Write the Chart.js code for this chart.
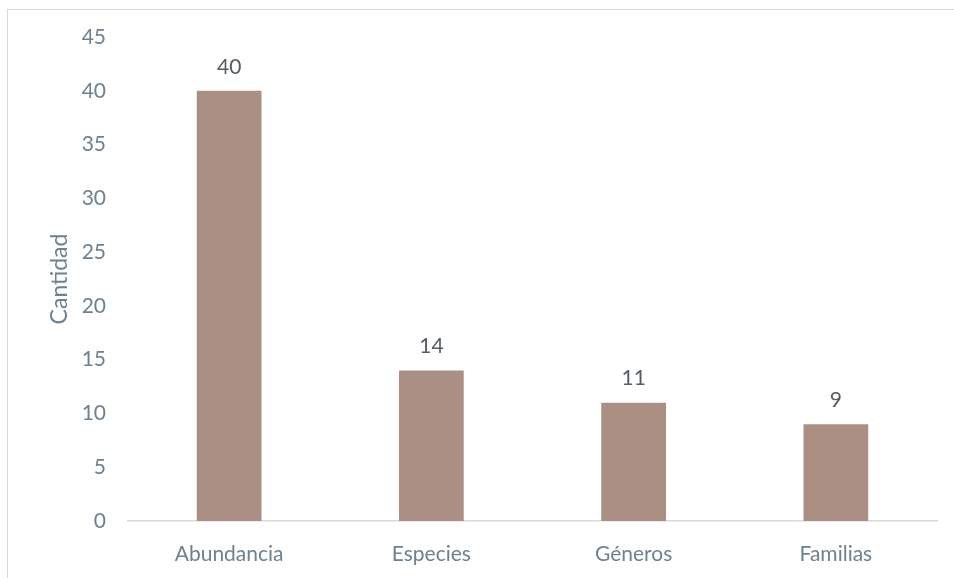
<!DOCTYPE html>
<html>
<head>
<meta charset="utf-8">
<script src="https://cdn.jsdelivr.net/npm/chart.js@4.4.0/dist/chart.umd.min.js"></script>
<style>
  html, body { margin: 0; padding: 0; background: #fff; overflow: hidden; }
  #wrap { position: relative; width: 954px; height: 578px; }
  #frame { position: absolute; left: 7px; top: 9px; width: 960px; height: 600px; border: 1px solid #d9d9d9; box-sizing: border-box; }
  canvas { position: absolute; left: 0; top: 0; }
</style>
</head>
<body>
<div id="wrap">
  <div id="frame"></div>
  <canvas id="barChart" width="954" height="578"></canvas>
</div>
<script>
var categories = ['Abundancia', 'Especies', 'Géneros', 'Familias'];
var values = [40, 14, 11, 9];
var yTicks = [0, 5, 10, 15, 20, 25, 30, 35, 40, 45];

var tickColor = '#6e8190';
var fontFamily = 'Lato, "Open Sans", sans-serif';

var valueLabels = {
    id: 'valueLabels',
    afterDatasetsDraw: function(chart) {
        var ctx = chart.ctx;
        var meta = chart.getDatasetMeta(0);
        ctx.save();
        ctx.font = '21px ' + fontFamily;
        ctx.fillStyle = '#555c63';
        ctx.textAlign = 'center';
        ctx.textBaseline = 'middle';
        meta.data.forEach(function(bar, i) {
            ctx.fillText(values[i], bar.x, bar.y - 24);
        });
        ctx.restore();
    }
};

var ctx = document.getElementById('barChart').getContext('2d');
var myChart = new Chart(ctx, {
    type: 'bar',
    data: {
        labels: categories,
        datasets: [{
            label: 'Cantidad',
            data: values,
            backgroundColor: '#aa8f82',
            borderWidth: 0,
            barPercentage: 0.32,
            categoryPercentage: 1
        }]
    },
    options: {
        responsive: false,
        animation: false,
        layout: { padding: { top: 37, right: 17, bottom: 0, left: 0 } },
        plugins: {
            legend: { display: false },
            tooltip: { enabled: false }
        },
        scales: {
            x: {
                grid: { display: false, drawTicks: false },
                border: { display: true, color: '#d9d9d9', width: 1.5 },
                ticks: { color: tickColor, font: { family: fontFamily, size: 21 }, padding: 21 },
                afterFit: function(scale) { scale.height = 57; }
            },
            y: {
                min: 0,
                max: 45,
                afterBuildTicks: function(scale) {
                    scale.ticks = yTicks.map(function(v) { return { value: v }; });
                },
                grid: { display: false, drawTicks: false },
                border: { display: false },
                ticks: { color: tickColor, font: { family: fontFamily, size: 21 }, padding: 22 },
                title: {
                    display: true,
                    text: 'Cantidad',
                    color: tickColor,
                    font: { family: fontFamily, size: 23 },
                    padding: { top: 46, bottom: 0 }
                },
                afterFit: function(scale) { scale.width = 128; }
            }
        }
    },
    plugins: [valueLabels]
});
</script>
</body>
</html>
